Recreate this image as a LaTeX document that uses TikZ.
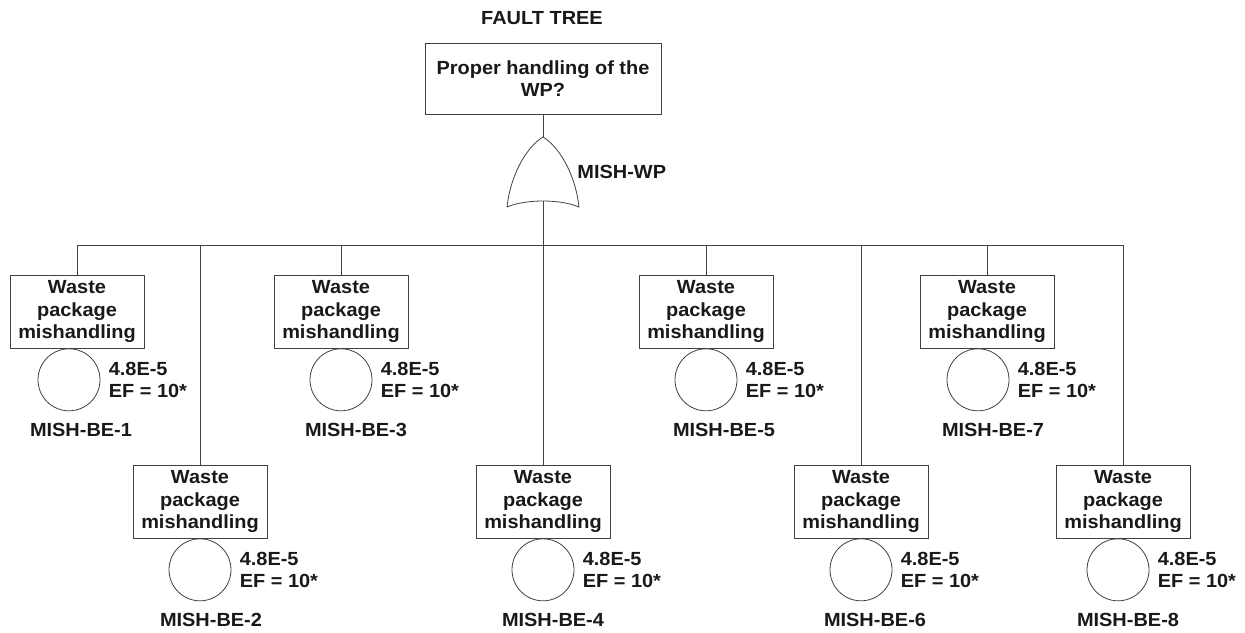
\documentclass[tikz,border=0pt]{standalone}
\usepackage{fontspec}
\setmainfont[FakeStretch=1.05]{Liberation Sans}
\usetikzlibrary{positioning}

\begin{document}
\begin{tikzpicture}[x=1pt, y=-1pt, line width=0.8pt,
  every node/.style={font=\fontsize{19}{22.5}\selectfont\bfseries, text=black!90},
  event/.style={draw=black!75, align=center, minimum width=134, minimum height=73, inner sep=2pt},
  basic/.style={draw=black!75, circle, minimum size=62, inner sep=0pt},
  prob/.style={align=left, inner sep=0pt},
  tag/.style={inner sep=0pt}]
\useasboundingbox (0,0) rectangle (1245,632);

\node[tag] (title) at (542,18) {FAULT TREE};
\node[draw=black!75, align=center, minimum width=236, minimum height=71] (top) at (543,78.5) {Proper handling of the\\WP?};

% OR gate
\coordinate (gtop) at (543,137);
\coordinate (gout) at (543,201);
\coordinate (bus) at (543,245);
\draw[black!75] (507,207) .. controls (511,172) and (528,146) .. (gtop)
  .. controls (558,146) and (575,172) .. (579,207)
  .. controls (560,199) and (526,199) .. (507,207);
\node[tag, anchor=west] (gname) at (577,172) {MISH-WP};

% basic events, upper row
\node[event] (b1) at (77,311.5) {Waste\\package\\mishandling};
\node[basic, below=0pt of b1, xshift=-8pt] (c1) {};
\node[prob, right=8pt of c1] (p1) {4.8E-5\\EF = 10*};
\node[tag, below=12pt of c1, xshift=12pt] (n1) {MISH-BE-1};

\node[event] (b3) at (341,311.5) {Waste\\package\\mishandling};
\node[basic, below=0pt of b3] (c3) {};
\node[prob, right=8pt of c3] (p3) {4.8E-5\\EF = 10*};
\node[tag, below=12pt of c3, xshift=15pt] (n3) {MISH-BE-3};

\node[event] (b5) at (706,311.5) {Waste\\package\\mishandling};
\node[basic, below=0pt of b5] (c5) {};
\node[prob, right=8pt of c5] (p5) {4.8E-5\\EF = 10*};
\node[tag, below=12pt of c5, xshift=18pt] (n5) {MISH-BE-5};

\node[event] (b7) at (987,311.5) {Waste\\package\\mishandling};
\node[basic, below=0pt of b7, xshift=-9pt] (c7) {};
\node[prob, right=8pt of c7] (p7) {4.8E-5\\EF = 10*};
\node[tag, below=12pt of c7, xshift=15pt] (n7) {MISH-BE-7};

% basic events, lower row
\node[event] (b2) at (200,501.5) {Waste\\package\\mishandling};
\node[basic, below=0pt of b2] (c2) {};
\node[prob, right=8pt of c2] (p2) {4.8E-5\\EF = 10*};
\node[tag, below=12pt of c2, xshift=11pt] (n2) {MISH-BE-2};

\node[event] (b4) at (543,501.5) {Waste\\package\\mishandling};
\node[basic, below=0pt of b4] (c4) {};
\node[prob, right=8pt of c4] (p4) {4.8E-5\\EF = 10*};
\node[tag, below=12pt of c4, xshift=10pt] (n4) {MISH-BE-4};

\node[event] (b6) at (861,501.5) {Waste\\package\\mishandling};
\node[basic, below=0pt of b6] (c6) {};
\node[prob, right=8pt of c6] (p6) {4.8E-5\\EF = 10*};
\node[tag, below=12pt of c6, xshift=14pt] (n6) {MISH-BE-6};

\node[event] (b8) at (1123,501.5) {Waste\\package\\mishandling};
\node[basic, below=0pt of b8, xshift=-5pt] (c8) {};
\node[prob, right=8pt of c8] (p8) {4.8E-5\\EF = 10*};
\node[tag, below=12pt of c8, xshift=10pt] (n8) {MISH-BE-8};

% connectors
\draw[black!75] (top) -- (gtop);
\draw[black!75] (gout) -- (bus);
\draw[black!75] (bus) -| (b1.north);
\draw[black!75] (bus) -| (b2.north);
\draw[black!75] (bus) -| (b3.north);
\draw[black!75] (bus) -- (b4.north);
\draw[black!75] (bus) -| (b5.north);
\draw[black!75] (bus) -| (b6.north);
\draw[black!75] (bus) -| (b7.north);
\draw[black!75] (bus) -| (b8.north);
\end{tikzpicture}
\end{document}
